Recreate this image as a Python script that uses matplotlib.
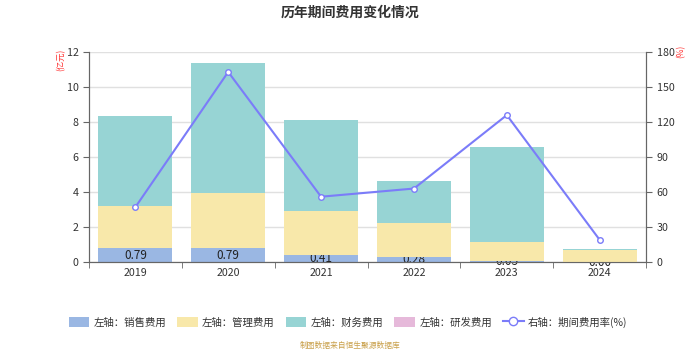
import matplotlib
matplotlib.use("Agg")
import matplotlib.pyplot as plt
import numpy as np
from matplotlib.patches import Patch
from matplotlib.lines import Line2D

plt.rcParams['font.family'] = ['Noto Sans CJK SC', 'DejaVu Sans']

# 各年期间费用（亿元）与期间费用率（%）
years = ['2019', '2020', '2021', '2022', '2023', '2024']
sales = [0.79, 0.79, 0.41, 0.28, 0.05, 0.00]
admin = [2.41, 3.15, 2.50, 1.95, 1.09, 0.70]
finance = [5.14, 7.43, 5.20, 2.40, 5.43, 0.07]
rnd = [0, 0, 0, 0, 0, 0]
rate = [47, 163, 56, 63, 126, 19]

c_sales = '#9ab7e3'
c_admin = '#f8e8aa'
c_fin = '#97d4d4'
c_rnd = '#e6b9da'
c_line = '#7b7cf9'

fig = plt.figure(figsize=(7, 3.5), dpi=100)
ax = fig.add_axes([0.127, 0.2514, 0.796, 0.5997])
ax2 = ax.twinx()

x = np.arange(len(years))
w = 0.8
ax.bar(x, sales, w, color=c_sales, zorder=2)
bottom1 = np.array(sales)
ax.bar(x, admin, w, bottom=bottom1, color=c_admin, zorder=4)
bottom2 = bottom1 + np.array(admin)
ax.bar(x, finance, w, bottom=bottom2, color=c_fin, zorder=4)
ax.bar(x, rnd, w, bottom=bottom2 + np.array(finance), color=c_rnd, zorder=4)

# 销售费用数值标签，放在柱子中间（被上层柱子遮住一部分）
for xi, v in zip(x, sales):
    ax.text(xi, v / 2, f'{v:.2f}', ha='center', va='center', fontsize=8.5,
            color='#222222', zorder=3)

ax2.plot(x, rate, color=c_line, lw=1.5, marker='o', ms=4,
         mfc='white', mec=c_line, mew=1.0, zorder=5)

ax.set_xlim(-0.5, len(years) - 0.5)
ax.set_ylim(0, 12)
ax.set_yticks(range(0, 13, 2))
ax2.set_ylim(0, 180)
ax2.set_yticks(range(0, 181, 30))

ax.set_xticks(x)
ax.set_xticklabels(years)
ax.set_xticks(np.arange(-0.5, len(years), 1), minor=True)
ax.tick_params(axis='x', which='major', length=0, pad=4, labelsize=7.7, labelcolor='#333333')
ax.tick_params(axis='x', which='minor', length=4, color='#666666')
ax.tick_params(axis='y', length=4, color='#666666', labelsize=7.7, labelcolor='#333333')
ax2.tick_params(axis='y', length=4, color='#666666', labelsize=7.7, labelcolor='#333333')

ax.grid(axis='y', color='#e0e0e0', lw=1, zorder=0)
ax.set_axisbelow(True)
for a in (ax, ax2):
    a.spines['top'].set_visible(False)
    for s in ('left', 'right', 'bottom'):
        a.spines[s].set_color('#666666')
ax.patch.set_visible(False)
ax2.set_zorder(ax.get_zorder() + 1)

fig.text(0.5, 0.965, '历年期间费用变化情况', ha='center', va='center',
         fontsize=10, fontweight='bold', color='#333333')
fig.text(0.087, 0.83, '(亿元)', rotation=90, ha='center', va='center',
         fontsize=6, color='#ff3333')
fig.text(0.973, 0.853, '(%)', rotation=90, ha='center', va='center',
         fontsize=6, color='#ff3333')

handles = [
    Patch(facecolor=c_sales, label='左轴：销售费用'),
    Patch(facecolor=c_admin, label='左轴：管理费用'),
    Patch(facecolor=c_fin, label='左轴：财务费用'),
    Patch(facecolor=c_rnd, label='左轴：研发费用'),
    Line2D([0], [0], color=c_line, lw=1.5, marker='o', ms=6, mfc='white',
           mec=c_line, label='右轴：期间费用率(%)'),
]
fig.legend(handles=handles, loc='center', bbox_to_anchor=(0.497, 0.08), ncol=5,
           frameon=False, fontsize=7.5, handlelength=2.0, handleheight=1.1,
           columnspacing=1.05, handletextpad=0.4, labelcolor='#333333')

fig.text(0.5, 0.011, '制图数据来自恒生聚源数据库', ha='center', va='center',
         fontsize=5.6, color='#c9a04a')

fig.savefig('out.png', dpi=100)
